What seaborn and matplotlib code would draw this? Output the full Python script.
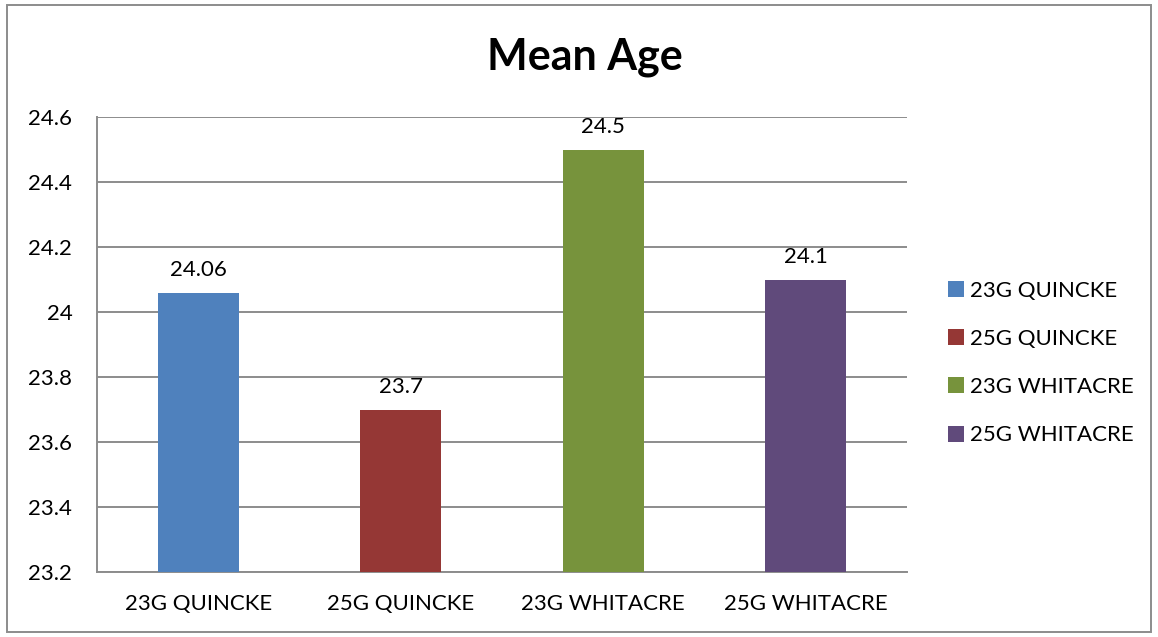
import pandas as pd
import matplotlib.pyplot as plt
import seaborn as sns
from matplotlib.patches import Rectangle, Patch

# data
groups = ["23G QUINCKE", "25G QUINCKE", "23G WHITACRE", "25G WHITACRE"]
mean_age = [24.06, 23.7, 24.5, 24.1]
value_labels = ["24.06", "23.7", "24.5", "24.1"]
colors = ["#4F81BD", "#953735", "#77933C", "#604A7B"]

df = pd.DataFrame({"Group": groups, "Age": mean_age})

sns.set_style("white")
plt.rcParams["font.family"] = ["Lato", "DejaVu Sans"]
plt.rcParams["text.color"] = "black"
plt.rcParams["xtick.labelcolor"] = "black"
plt.rcParams["ytick.labelcolor"] = "black"

fig = plt.figure(figsize=(11.58, 6.37), dpi=100)
ax = fig.add_axes([97 / 1158, 1 - 572 / 637, 810 / 1158, 455 / 637])

sns.barplot(data=df, x="Group", y="Age", hue="Group", palette=colors,
            width=0.4, saturation=1, linewidth=0, legend=False, ax=ax, zorder=3)

ax.set_ylim(23.2, 24.6)
ax.set_yticks([23.2, 23.4, 23.6, 23.8, 24.0, 24.2, 24.4, 24.6])
ax.set_yticklabels(["23.2", "23.4", "23.6", "23.8", "24", "24.2", "24.4", "24.6"])
ax.set_xlim(-0.5, 3.5)
ax.set_xlabel("")
ax.set_ylabel("")

# gridlines
grid_col = "#8C8C8C"
ax.yaxis.grid(True, color=grid_col, linewidth=1.4, zorder=0)
ax.set_axisbelow(True)

for s in ["top", "right"]:
    ax.spines[s].set_visible(False)
for s in ["left", "bottom"]:
    ax.spines[s].set_color(grid_col)
    ax.spines[s].set_linewidth(1.4)

ax.tick_params(axis="y", length=5.8, width=1.4, color=grid_col, labelsize=16, pad=12,
               labelcolor="black")
ax.tick_params(axis="x", which="major", length=0, labelsize=16, pad=16, labelcolor="black")
ax.set_xticks([-0.5, 0.5, 1.5, 2.5, 3.5], minor=True)
ax.tick_params(axis="x", which="minor", length=5.8, width=1.4, color=grid_col)

# value labels above bars
for i, v in enumerate(mean_age):
    ax.annotate(value_labels[i], (i, v), xytext=(0, 12), textcoords="offset points",
                ha="center", va="baseline", fontsize=16, color="black")

# title
fig.text(585 / 1158, 1 - 57 / 637, "Mean Age", ha="center", va="center",
         fontsize=31, fontweight="bold", color="black")

# legend
handles = [Patch(facecolor=c, edgecolor="none") for c in colors]
fig.legend(handles, groups, loc="center left", bbox_to_anchor=(948 / 1158, 1 - 363 / 637),
           frameon=False, fontsize=16, handlelength=0.73, handleheight=0.73,
           handletextpad=0.28, labelspacing=1.27, borderpad=0, borderaxespad=0,
           labelcolor="black")

# outer border
fig.patches.append(Rectangle((7 / 1158, 5 / 637), 1 - 14 / 1158, 1 - 10 / 637,
                             transform=fig.transFigure, fill=False,
                             edgecolor=grid_col, linewidth=1.4))

fig.savefig("out.png", dpi=100)
